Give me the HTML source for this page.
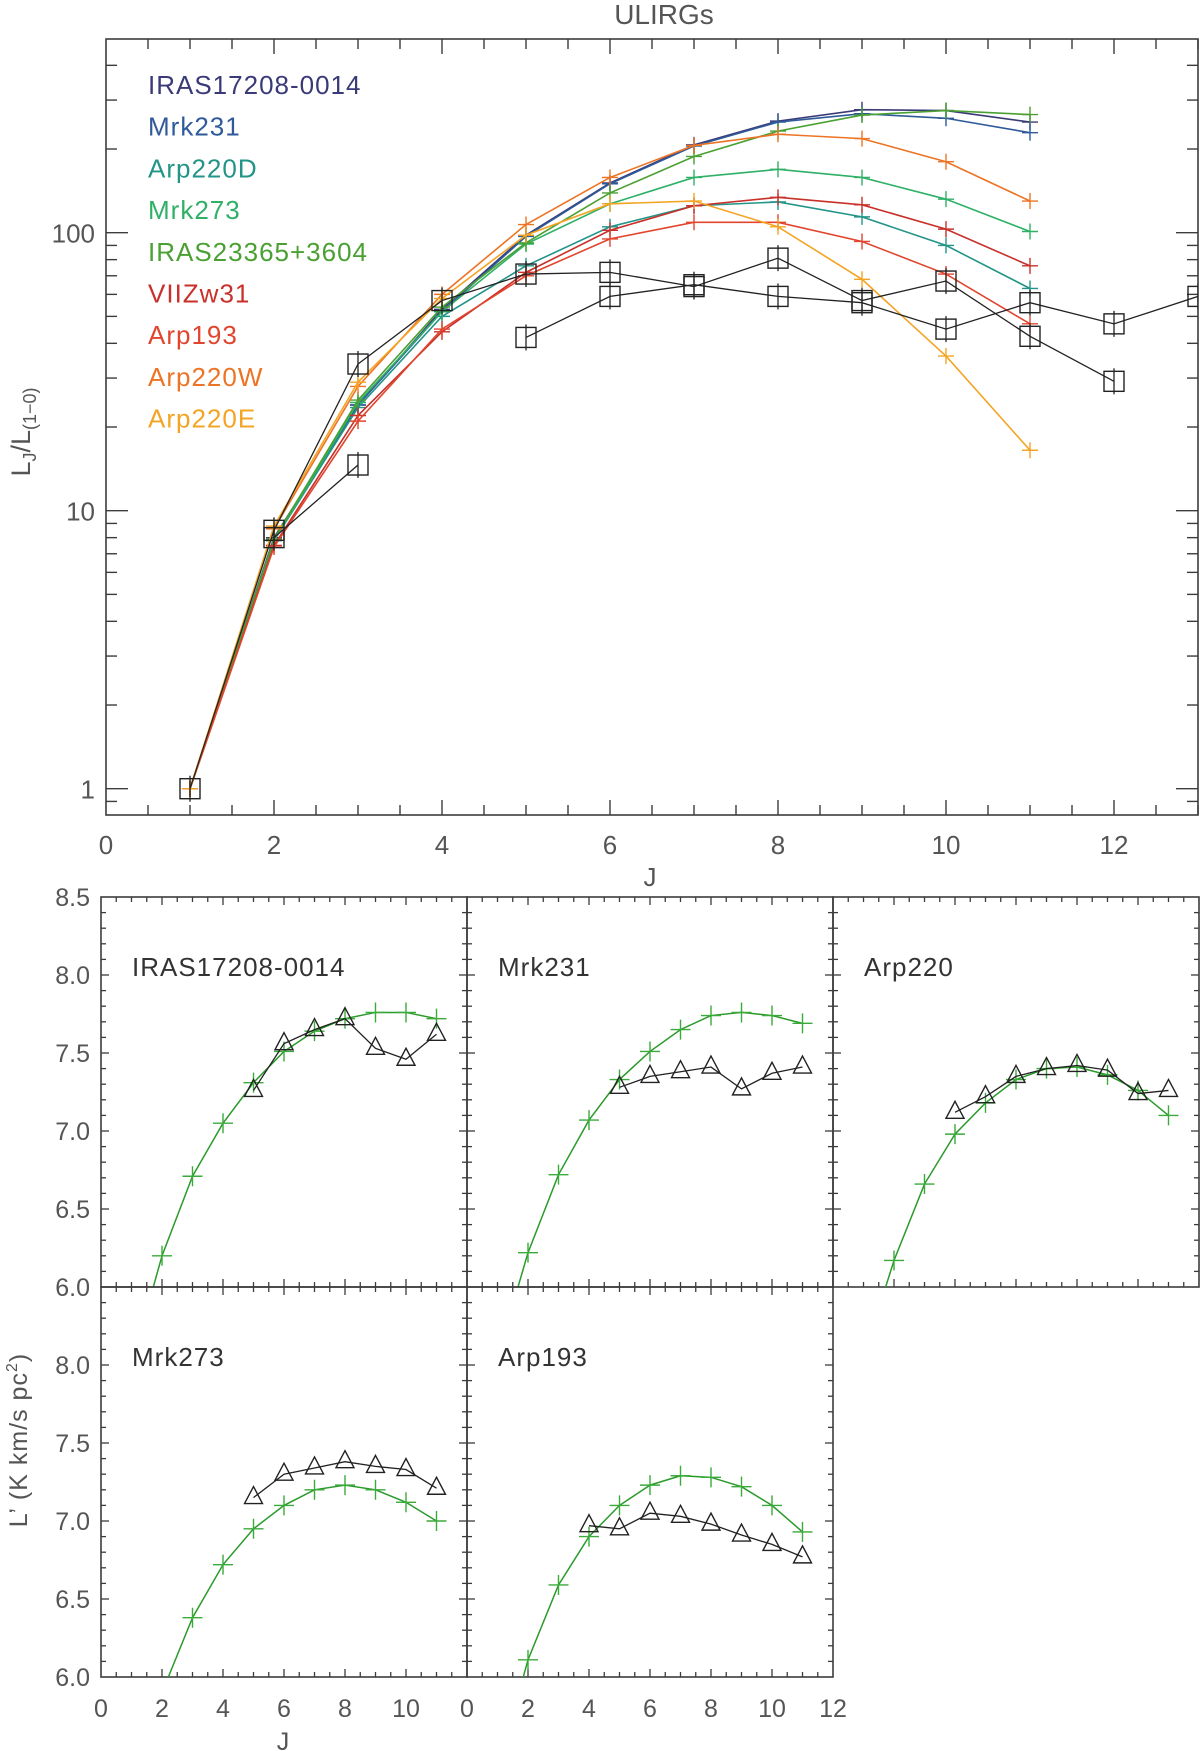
<!DOCTYPE html>
<html><head><meta charset="utf-8">
<style>
html,body{margin:0;padding:0;background:#fff;}
svg{display:block;font-family:"Liberation Sans",sans-serif;}
</style></head>
<body>
<svg id="fig" width="1200" height="1751" viewBox="0 0 1200 1751" xmlns="http://www.w3.org/2000/svg">
<defs>
<clipPath id="ctop"><rect x="106" y="39" width="1092" height="776"/></clipPath>
</defs>
</svg>
<script>
// ---------- top chart data ----------
const topJ = [1,2,3,4,5,6,7,8,9,10,11];
const seriesNames = ["IRAS17208-0014","Mrk231","Arp220D","Mrk273","IRAS23365+3604","VIIZw31","Arp193","Arp220W","Arp220E"];
const seriesColors = ["#3a3a78","#2f5a9a","#239488","#2fb067","#4aa032","#c8302a","#e2452e","#ec7424","#f4a423"];
const sIRAS17208 = [1,8.0,24,53,98,151,207,252,277,275,250];
const sMrk231 = [1,7.9,24,52,97,150,205,250,268,258,229];
const sArp220D = [1,7.8,23.5,50,76,105,125,129,114,90,63];
const sMrk273 = [1,7.8,24.5,52,91,127,158,169,158,132,101];
const sIRAS23365 = [1,7.9,25,54,92,139,188,232,265,275,266];
const sVIIZw31 = [1,7.5,22,44,72,102,125,134,126,103,76];
const sArp193 = [1,7.4,21,45,70,95,109,109,93,71,47];
const sArp220W = [1,8.6,28,60,107,158,206,226,218,180,130];
const sArp220E = [1,8.8,29,58,98,127,130,105,68,36,16.5];
const topSeries = [sIRAS17208,sMrk231,sArp220D,sMrk273,sIRAS23365,sVIIZw31,sArp193,sArp220W,sArp220E];
const sqAJ = [1,2,3,4,5,6,7,8,9,10,11,12];
const sqAV = [1,8.5,33.7,57,71,72,64,81,57,67,42.4,29.2];
const sqBJ = [2,3];
const sqBV = [8,14.6];
const sqCJ = [5,6,7,8,9,10,11,12,13];
const sqCV = [42,59,65,59,56,45,56,47,59];
const topXTicks = [0,2,4,6,8,10,12];
const topYTicks = [1,10,100];

// ---------- bottom panels data ----------
const panelNames = ["IRAS17208-0014","Mrk231","Arp220","Mrk273","Arp193"];
const modelJ = [1,2,3,4,5,6,7,8,9,10,11];
const model1 = [5.5,6.20,6.71,7.05,7.31,7.51,7.64,7.72,7.76,7.76,7.72];
const model2 = [5.55,6.22,6.72,7.07,7.33,7.51,7.65,7.74,7.76,7.74,7.69];
const model3 = [5.55,6.17,6.66,6.98,7.18,7.33,7.40,7.41,7.36,7.26,7.10];
const model4 = [5.3,5.9,6.38,6.72,6.95,7.10,7.20,7.23,7.20,7.12,7.00];
const model5 = [5.4,6.11,6.59,6.90,7.10,7.23,7.29,7.28,7.22,7.10,6.93];
const obs1J = [5,6,7,8,9,10,11];
const obs1 = [7.26,7.56,7.65,7.72,7.53,7.46,7.62];
const obs2J = [5,6,7,8,9,10,11];
const obs2 = [7.28,7.35,7.38,7.41,7.27,7.37,7.41];
const obs3J = [4,5,6,7,8,9,10,11];
const obs3 = [7.12,7.22,7.35,7.40,7.42,7.39,7.24,7.26];
const obs4J = [5,6,7,8,9,10,11];
const obs4 = [7.15,7.30,7.34,7.38,7.35,7.33,7.21];
const obs5J = [4,5,6,7,8,9,10,11];
const obs5 = [6.97,6.95,7.05,7.03,6.98,6.91,6.85,6.77];
const botYTicks = [6.0,6.5,7.0,7.5,8.0,8.5];
const botXTicks1 = [0,2,4,6,8,10];
const botXTicks2 = [0,2,4,6,8,10,12];

const NS = "http://www.w3.org/2000/svg";
const svg = document.getElementById("fig");
function mk(tag, attrs, parent){
  const e = document.createElementNS(NS, tag);
  for (const k in attrs) e.setAttribute(k, attrs[k]);
  (parent||svg).appendChild(e);
  return e;
}
const AX = "#3c3c3c";
const TXT = "#555";

const TL=106, TR=1198, TT=39, TB=815;
function tx(j){ return TL + 84*j; }
function ty(v){ return 232.7 - 278*Math.log10(v/100); }

let g = mk("g",{});



let fr = mk("rect",{x:TL,y:TT,width:TR-TL,height:TB-TT,fill:"none",stroke:AX,"stroke-width":1.6},g);



for (let j=0.5;j<=13;j+=0.5){
  const major = Math.abs(j/2-Math.round(j/2))<1e-6;
  const len = major?15:10;
  mk("line",{x1:tx(j),x2:tx(j),y1:TB,y2:TB-len,stroke:AX,"stroke-width":1.4},g);
  mk("line",{x1:tx(j),x2:tx(j),y1:TT,y2:TT+len,stroke:AX,"stroke-width":1.4},g);
}
topXTicks.forEach(v=>{
  const t = mk("text",{x:tx(v),y:854,"text-anchor":"middle","font-size":26,fill:TXT},g);
  t.textContent = v;
  
  
});
for (let d=-1; d<=2; d++){
  for (let m=1;m<=9;m++){
    const v = m*Math.pow(10,d);
    const y = ty(v);
    if (y<TT||y>TB) continue;
    const len = m===1?22:11;
    mk("line",{x1:TL,x2:TL+len,y1:y,y2:y,stroke:AX,"stroke-width":1.4},g);
    mk("line",{x1:TR,x2:TR-len,y1:y,y2:y,stroke:AX,"stroke-width":1.4},g);
  }
}
topYTicks.forEach(v=>{
  const t = mk("text",{x:95,y:ty(v)+10,"text-anchor":"end","font-size":26,fill:TXT},g);
  t.textContent = v;
  
  
});
let title = mk("text",{x:664,y:24,"text-anchor":"middle","font-size":28,fill:TXT},g);
title.textContent="ULIRGs";


let xl = mk("text",{x:650,y:886,"text-anchor":"middle","font-size":26,fill:TXT},g);
xl.textContent="J";


let yl = mk("text",{x:0,y:0,"text-anchor":"middle","font-size":27,fill:TXT,transform:"translate(30,432) rotate(-90)"},g);
yl.innerHTML='L<tspan font-size="18" dy="6">J</tspan><tspan dy="-6">/L</tspan><tspan font-size="18" dy="6">(1−0)</tspan>';



const cg = mk("g",{"clip-path":"url(#ctop)"},g);
function plus(x,y,h,col,parent){
  return mk("path",{d:`M${x-h},${y}H${x+h}M${x},${y-h}V${y+h}`,stroke:col,"stroke-width":1.4,fill:"none"},parent);
}
topSeries.forEach((s,i)=>{
  const pts = s.map((v,k)=>tx(topJ[k])+","+ty(v)).join(" ");
  const pl = mk("polyline",{points:pts,fill:"none",stroke:seriesColors[i],"stroke-width":1.6},cg);
  
  
  s.forEach((v,k)=>{
    const m = plus(tx(topJ[k]),ty(v),8,seriesColors[i],cg);
    
    
  });
  const lt = mk("text",{x:148,y:94+41.7*i,"font-size":26,fill:seriesColors[i],"letter-spacing":"1"},g);
  lt.textContent = seriesNames[i];
  
  
});
function squares(J,V,name){
  const pts = V.map((v,k)=>tx(J[k])+","+ty(v)).join(" ");
  const pl = mk("polyline",{points:pts,fill:"none",stroke:"#222","stroke-width":1.3},cg);
  
  
  V.forEach((v,k)=>{
    const x=tx(J[k]), y=ty(v);
    const r = mk("rect",{x:x-10,y:y-10,width:20,height:20,fill:"none",stroke:"#222","stroke-width":1.4},cg);
    
    
    const eb = mk("line",{x1:x,x2:x,y1:y-13,y2:y+13,stroke:"#222","stroke-width":1.3},cg);
    
    
  });
}
squares(sqAJ,sqAV,"observed-a");
squares(sqBJ,sqBV,"observed-b");
squares(sqCJ,sqCV,"observed-c");

// ---------- bottom panels ----------
const PX = [101,467,833];
const PY = [897,1287];
const PW = 366, PH = 390;
const panels = [
  {c:0,r:0,m:model1,oj:obs1J,o:obs1},
  {c:1,r:0,m:model2,oj:obs2J,o:obs2},
  {c:2,r:0,m:model3,oj:obs3J,o:obs3},
  {c:0,r:1,m:model4,oj:obs4J,o:obs4},
  {c:1,r:1,m:model5,oj:obs5J,o:obs5}
];
panels.forEach((p,i)=>{
  const x0=PX[p.c], y0=PY[p.r];
  const bx = j => x0 + 30.5*j;
  const by = v => y0 + (8.5-v)*156;
  const pg = mk("g",{});
  
  
  const cid = "cp"+i;
  const cp = mk("clipPath",{id:cid},pg);
  mk("rect",{x:x0,y:y0,width:PW,height:PH},cp);
  const f = mk("rect",{x:x0,y:y0,width:PW,height:PH,fill:"none",stroke:AX,"stroke-width":1.6},pg);
  
  
  for (let j=0.5;j<12;j+=0.5){
    const major = Math.abs(j/2-Math.round(j/2))<1e-6;
    const len = major?8:5;
    mk("line",{x1:bx(j),x2:bx(j),y1:y0+PH,y2:y0+PH-len,stroke:AX,"stroke-width":1.3},pg);
    mk("line",{x1:bx(j),x2:bx(j),y1:y0,y2:y0+len,stroke:AX,"stroke-width":1.3},pg);
  }
  for (let k=1;k<25;k++){
    const v = 6.0+0.1*k;
    const major = k%5===0;
    const len = major?8:5;
    mk("line",{x1:x0,x2:x0+len,y1:by(v),y2:by(v),stroke:AX,"stroke-width":1.3},pg);
    mk("line",{x1:x0+PW,x2:x0+PW-len,y1:by(v),y2:by(v),stroke:AX,"stroke-width":1.3},pg);
  }
  const lab = mk("text",{x:x0+31,y:y0+79,"font-size":26,fill:"#333","letter-spacing":"1"},pg);
  lab.textContent = panelNames[i];
  
  
  const inner = mk("g",{"clip-path":`url(#${cid})`},pg);
  const mpts = p.m.map((v,k)=>bx(modelJ[k])+","+by(v)).join(" ");
  const ml = mk("polyline",{points:mpts,fill:"none",stroke:"#2a9a2a","stroke-width":1.5},inner);
  
  
  p.m.forEach((v,k)=>{
    if (v<6.0) return;
    const m = plus(bx(modelJ[k]),by(v),10,"#3aaa3a",inner);
    
    
  });
  const opts = p.o.map((v,k)=>bx(p.oj[k])+","+by(v)).join(" ");
  const ol = mk("polyline",{points:opts,fill:"none",stroke:"#222","stroke-width":1.3},inner);
  
  
  p.o.forEach((v,k)=>{
    const x=bx(p.oj[k]), y=by(v);
    const t = mk("path",{d:`M${x},${y-11}L${x+9},${y+6}L${x-9},${y+6}Z`,fill:"none",stroke:"#222","stroke-width":1.4},inner);
    
    
  });
});
[0,1].forEach(r=>{
  botYTicks.forEach(v=>{
    if (r===1 && v===8.5) return;
    const y = PY[r] + (8.5-v)*156;
    const t = mk("text",{x:90,y:y+9,"text-anchor":"end","font-size":25,fill:TXT});
    t.textContent = v.toFixed(1);
    
    
  });
});
botXTicks1.forEach(v=>{
  const t = mk("text",{x:PX[0]+30.5*v,y:1717,"text-anchor":"middle","font-size":25,fill:TXT});
  t.textContent=v;
  
  
});
botXTicks2.forEach(v=>{
  const t = mk("text",{x:PX[1]+30.5*v,y:1717,"text-anchor":"middle","font-size":25,fill:TXT});
  t.textContent=v;
  
  
});
let bxl = mk("text",{x:283,y:1750,"text-anchor":"middle","font-size":25,fill:TXT});
bxl.textContent="J";


let byl = mk("text",{x:0,y:0,"text-anchor":"middle","font-size":25,fill:TXT,"letter-spacing":"1",transform:"translate(27,1440) rotate(-90)"});
byl.innerHTML='L’ (K km/s pc<tspan font-size="16" dy="-10">2</tspan><tspan dy="10">)</tspan>';


</script>
</body></html>
